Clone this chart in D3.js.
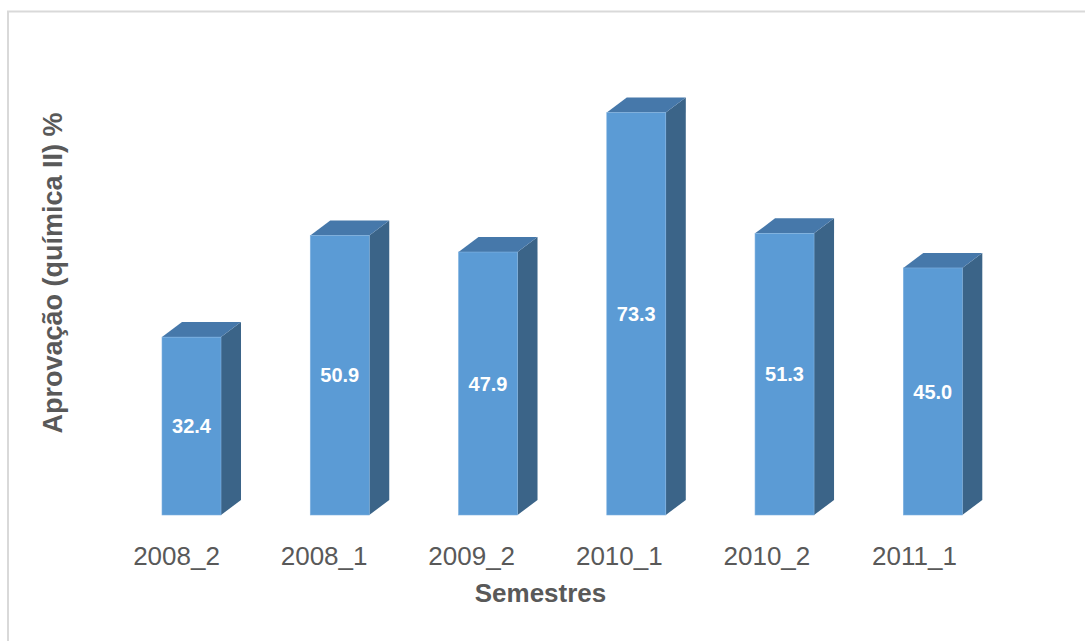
<!DOCTYPE html>
<html>
<head>
<meta charset="utf-8">
<script src="https://cdn.jsdelivr.net/npm/d3@7"></script>
<style>
  html, body { margin: 0; padding: 0; background: #fff; }
  svg { display: block; font-family: "Liberation Sans", Arial, sans-serif; }
</style>
</head>
<body>
<svg id="chart" width="1085" height="641"></svg>
<script>
const categories = ["2008_2", "2008_1", "2009_2", "2010_1", "2010_2", "2011_1"];
const values = [32.4, 50.9, 47.9, 73.3, 51.3, 45.0];
const valueLabels = ["32.4", "50.9", "47.9", "73.3", "51.3", "45.0"];
const yTitle = "Aprovação (química II) %";
const xTitle = "Semestres";

const svg = d3.select("#chart");

// chart border
svg.append("rect")
  .attr("x", 8).attr("y", 11.5)
  .attr("width", 1100).attr("height", 660)
  .attr("fill", "#fff")
  .attr("stroke", "#D9D9D9").attr("stroke-width", 2);

const x = d3.scaleBand().domain(categories).range([162, 962.3]).paddingInner(0.602).paddingOuter(0);
const xl = d3.scalePoint().domain(categories).range([176, 914]);
const y = d3.scaleLinear().domain([0, 80]).range([515, 515 - 439.2]);

const dx = 20, dy = -15;
const cFront = "#5B9BD5", cTop = "#4678AA", cSide = "#3B6488";

const g = svg.append("g");
const bars = g.selectAll("g.bar").data(categories.map((c, i) => ({c, v: values[i], l: valueLabels[i]})))
  .enter().append("g").attr("class", "bar");

// side face
bars.append("path")
  .attr("d", d => {
    const x1 = x(d.c) + x.bandwidth(), y0 = y(0), yt = y(d.v);
    return `M${x1},${y0}L${x1 + dx},${y0 + dy}L${x1 + dx},${yt + dy}L${x1},${yt}Z`;
  })
  .attr("fill", cSide);

// top face
bars.append("path")
  .attr("d", d => {
    const x0 = x(d.c), x1 = x0 + x.bandwidth(), yt = y(d.v);
    return `M${x0},${yt}L${x0 + dx},${yt + dy}L${x1 + dx},${yt + dy}L${x1},${yt}Z`;
  })
  .attr("fill", cTop);

// front face
bars.append("rect")
  .attr("x", d => x(d.c))
  .attr("y", d => y(d.v))
  .attr("width", x.bandwidth())
  .attr("height", d => y(0) - y(d.v))
  .attr("fill", cFront)
  .attr("stroke", "#7FB1E0").attr("stroke-width", 0.6);

// data labels
bars.append("text")
  .attr("x", d => x(d.c) + x.bandwidth() / 2)
  .attr("y", d => (y(d.v) + y(0)) / 2)
  .attr("dy", "0.36em")
  .attr("text-anchor", "middle")
  .attr("fill", "#fff")
  .attr("font-weight", "bold")
  .attr("font-size", 20)
  .text(d => d.l);

// category axis labels
const xAxis = d3.axisBottom(xl).tickSize(0).tickPadding(0);
const ax = svg.append("g").attr("transform", "translate(0,547)").call(xAxis);
ax.select(".domain").remove();
ax.selectAll("text")
  .attr("font-size", 26)
  .attr("font-family", "Liberation Sans, Arial, sans-serif")
  .attr("fill", "#595959")
  .attr("dy", "0.71em");

// axis titles
svg.append("text")
  .attr("x", 540.5).attr("y", 602)
  .attr("text-anchor", "middle")
  .attr("font-size", 26).attr("font-weight", "bold")
  .attr("fill", "#595959")
  .text(xTitle);

svg.append("text")
  .attr("transform", "translate(62,273) rotate(-90)")
  .attr("text-anchor", "middle")
  .attr("font-size", 27).attr("font-weight", "bold")
  .attr("fill", "#595959")
  .text(yTitle);
</script>
</body>
</html>
